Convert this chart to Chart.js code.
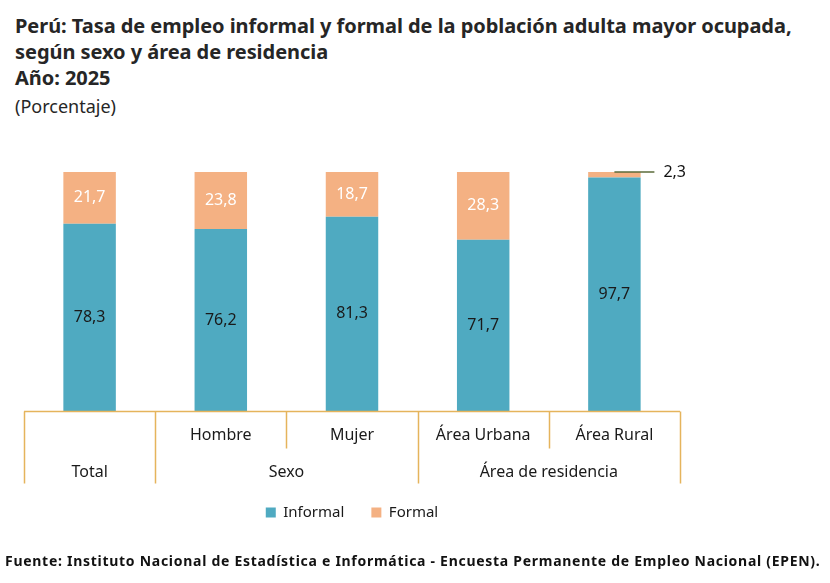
<!DOCTYPE html>
<html lang="es">
<head>
<meta charset="utf-8">
<script src="https://cdn.jsdelivr.net/npm/chart.js@4.4.1/dist/chart.umd.min.js"></script>
<style>
  html, body { margin: 0; padding: 0; background: #fff; }
  body { width: 830px; height: 583px; position: relative; overflow: hidden; font-family: "Noto Sans", sans-serif; color: #262626; }
  .title { position: absolute; left: 15px; top: 13px; font-size: 20px; font-weight: 700; line-height: 26px; letter-spacing: -0.05px; white-space: nowrap; }
  .unit { position: absolute; left: 15px; top: 93px; font-size: 18px; line-height: 26px; }
  .source { position: absolute; left: 5px; top: 551px; font-size: 14px; font-weight: 700; color: #111; white-space: nowrap; letter-spacing: 0.72px; }
  #chart { position: absolute; left: 0; top: 0; }
</style>
</head>
<body>
<div class="title">Perú: Tasa de empleo informal y formal de la población adulta mayor ocupada,<br>según sexo y área de residencia<br>Año: 2025</div>
<div class="unit">(Porcentaje)</div>
<canvas id="chart" width="830" height="583"></canvas>
<div class="source">Fuente: Instituto Nacional de Estadística e Informática - Encuesta Permanente de Empleo Nacional (EPEN).</div>
<script>
const categories = ['Total', 'Hombre', 'Mujer', 'Área Urbana', 'Área Rural'];
const subLabels = ['', 'Hombre', 'Mujer', 'Área Urbana', 'Área Rural'];
const groupLabels = ['Total', 'Sexo', 'Área de residencia'];
const groupSizes = [1, 2, 2];
const informal = [78.3, 76.2, 81.3, 71.7, 97.7];
const formal = [21.7, 23.8, 18.7, 28.3, 2.3];

const blue = '#4faac1';
const orange = '#f4b183';
const gold = '#e5b45c';
const fontFamily = '"Noto Sans", sans-serif';

function fmt(v) {
    return v.toFixed(1).replace('.', ',');
}

// value labels inside the segments, small ones get a leader line
const valueLabels = {
    id: 'valueLabels',
    afterDatasetsDraw(chart) {
        const ctx = chart.ctx;
        ctx.save();
        ctx.font = '16px ' + fontFamily;
        ctx.textBaseline = 'middle';
        chart.data.datasets.forEach((ds, di) => {
            const meta = chart.getDatasetMeta(di);
            meta.data.forEach((bar, i) => {
                const v = ds.data[i];
                const h = Math.abs(bar.base - bar.y);
                const mid = (bar.y + bar.base) / 2;
                if (h < 18) {
                    ctx.strokeStyle = '#5b6b3a';
                    ctx.lineWidth = 1.5;
                    ctx.beginPath();
                    ctx.moveTo(bar.x, bar.y);
                    ctx.lineTo(bar.x + 40, bar.y);
                    ctx.stroke();
                    ctx.fillStyle = '#111';
                    ctx.textAlign = 'left';
                    ctx.fillText(fmt(v), bar.x + 49, bar.y);
                } else {
                    ctx.fillStyle = di === 0 ? '#1a1a1a' : '#ffffff';
                    ctx.textAlign = 'center';
                    ctx.fillText(fmt(v), bar.x, mid);
                }
            });
        });
        ctx.restore();
    }
};

// two-level category axis drawn from the x scale
const groupAxis = {
    id: 'groupAxis',
    afterDraw(chart) {
        const ctx = chart.ctx;
        const x = chart.scales.x;
        const area = chart.chartArea;
        const step = x.getPixelForValue(1) - x.getPixelForValue(0);
        const y0 = area.bottom + 0.5;
        const yShort = y0 + 37;
        const yLong = y0 + 72;
        const edge = i => x.getPixelForValue(i) - step / 2;

        ctx.save();
        ctx.strokeStyle = gold;
        ctx.lineWidth = 1.5;
        ctx.beginPath();
        ctx.moveTo(edge(0), y0);
        ctx.lineTo(edge(categories.length), y0);

        // group boundaries (long) and inner boundaries (short)
        const groupEdges = [0];
        groupSizes.forEach(n => groupEdges.push(groupEdges[groupEdges.length - 1] + n));
        for (let i = 0; i <= categories.length; i++) {
            const px = Math.round(edge(i)) + 0.5;
            ctx.moveTo(px, y0);
            ctx.lineTo(px, groupEdges.includes(i) ? yLong : yShort);
        }
        ctx.stroke();

        ctx.fillStyle = '#1a1a1a';
        ctx.font = '16px ' + fontFamily;
        ctx.textAlign = 'center';
        ctx.textBaseline = 'middle';
        subLabels.forEach((lab, i) => {
            if (lab) ctx.fillText(lab, x.getPixelForValue(i), y0 + 24);
        });
        groupLabels.forEach((lab, g) => {
            const cx = (edge(groupEdges[g]) + edge(groupEdges[g + 1])) / 2;
            ctx.fillText(lab, cx, y0 + 61);
        });
        ctx.restore();
    }
};

const ctx = document.getElementById('chart').getContext('2d');
new Chart(ctx, {
    type: 'bar',
    data: {
        labels: categories,
        datasets: [
            { label: 'Informal', data: informal, backgroundColor: blue },
            { label: 'Formal', data: formal, backgroundColor: orange }
        ]
    },
    options: {
        responsive: false,
        animation: false,
        devicePixelRatio: 1,
        layout: { padding: { left: 24, right: 150, top: 172, bottom: 53 } },
        datasets: { bar: { categoryPercentage: 1, barPercentage: 0.4 } },
        scales: {
            x: {
                stacked: true,
                grid: { display: false },
                border: { display: false },
                ticks: { display: false },
                afterFit(axis) { axis.height = 67; }
            },
            y: {
                stacked: true,
                display: false,
                min: 0,
                max: 100
            }
        },
        plugins: {
            legend: {
                position: 'bottom',
                labels: {
                    boxWidth: 10,
                    boxHeight: 10,
                    padding: 27,
                    color: '#1a1a1a',
                    font: { size: 15, family: fontFamily }
                }
            },
            tooltip: { enabled: false }
        }
    },
    plugins: [valueLabels, groupAxis]
});
</script>
</body>
</html>
